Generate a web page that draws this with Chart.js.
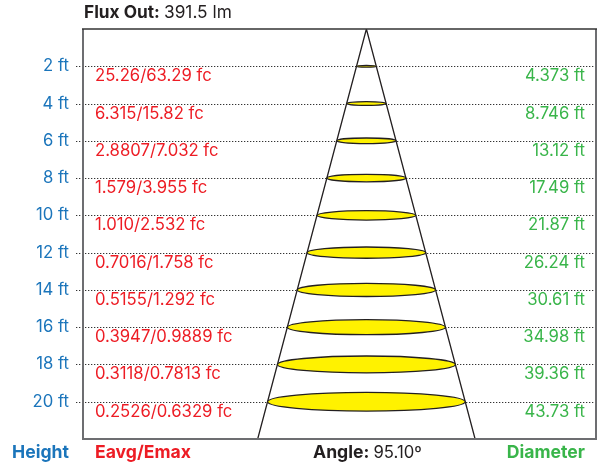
<!DOCTYPE html>
<html>
<head>
<meta charset="utf-8">
<script src="https://cdn.jsdelivr.net/npm/chart.js@4/dist/chart.umd.min.js"></script>
<style>
  html, body { margin: 0; padding: 0; background: #fff; }
  #wrap { width: 606px; height: 465px; }
</style>
</head>
<body>
<div id="wrap"><canvas id="beam"></canvas></div>
<script>
// beam data
const heights = [2, 4, 6, 8, 10, 12, 14, 16, 18, 20];
const diameters = [4.373, 8.746, 13.12, 17.49, 21.87, 26.24, 30.61, 34.98, 39.36, 43.73];
const diameterLabels = ['4.373 ft', '8.746 ft', '13.12 ft', '17.49 ft', '21.87 ft', '26.24 ft', '30.61 ft', '34.98 ft', '39.36 ft', '43.73 ft'];
const illuminance = ['25.26/63.29 fc', '6.315/15.82 fc', '2.8807/7.032 fc', '1.579/3.955 fc', '1.010/2.532 fc',
    '0.7016/1.758 fc', '0.5155/1.292 fc', '0.3947/0.9889 fc', '0.3118/0.7813 fc', '0.2526/0.6329 fc'];
const beamAngle = 95.10;
const fluxOut = '391.5 lm';
const maxHeight = 22;

const BLUE = '#1b75bb', RED = '#ed1c24', GREEN = '#39b54a', INK = '#231f20';
const FONT = 'Inter, "Noto Sans", sans-serif';

// cone edge reaches the bottom of the frame
const coneHalf = Math.tan(beamAngle / 2 * Math.PI / 180) * maxHeight;

const beamPlugin = {
    id: 'beam',
    beforeDatasetsDraw(chart) {
        // dotted row lines, dots drawn one by one (incl. the short tick stub left of the frame)
        const ctx = chart.ctx;
        const a = chart.chartArea;
        const y = chart.scales.y;
        ctx.save();
        ctx.fillStyle = '#333';
        heights.forEach(h => {
            const py = Math.round(y.getPixelForValue(h));
            for (let px = a.left - 7; px < a.right; px += 3) {
                ctx.fillRect(px, py, 1.3, 1);
            }
        });
        ctx.restore();
    },
    afterDatasetsDraw(chart) {
        const ctx = chart.ctx;
        const x = chart.scales.x, y = chart.scales.y;
        const cx = x.getPixelForValue(0);
        ctx.save();
        heights.forEach((h, i) => {
            const cy = y.getPixelForValue(h);
            const rx = x.getPixelForValue(diameters[i] / 2) - cx;
            const ry = rx * 0.095;
            ctx.beginPath();
            ctx.ellipse(cx, cy, rx, ry, 0, 0, Math.PI * 2);
            ctx.fillStyle = '#fff200';
            ctx.fill();
            ctx.lineWidth = 1.3;
            ctx.strokeStyle = INK;
            ctx.stroke();
        });
        ctx.restore();
    },
    afterDraw(chart) {
        const ctx = chart.ctx;
        const a = chart.chartArea;
        const y = chart.scales.y;
        ctx.save();
        // frame
        ctx.strokeStyle = '#6d6e71';
        ctx.lineWidth = 2;
        ctx.beginPath();
        ctx.moveTo(a.left, a.top);
        ctx.lineTo(a.left, a.bottom);
        ctx.lineTo(a.right, a.bottom);
        ctx.lineTo(a.right, a.top);
        ctx.stroke();
        ctx.strokeStyle = '#333';
        ctx.lineWidth = 1.5;
        ctx.beginPath();
        ctx.moveTo(a.left - 1, a.top);
        ctx.lineTo(a.right + 1, a.top);
        ctx.stroke();

        // row labels
        ctx.font = '16.7px ' + FONT;
        ctx.textBaseline = 'middle';
        heights.forEach((h, i) => {
            const py = y.getPixelForValue(h) + 10;
            ctx.fillStyle = RED;
            ctx.textAlign = 'left';
            ctx.fillText(illuminance[i], a.left + 12, py);
            ctx.fillStyle = GREEN;
            ctx.textAlign = 'right';
            ctx.fillText(diameterLabels[i], a.right - 11, py);
        });

        // title
        ctx.textAlign = 'left';
        ctx.fillStyle = INK;
        ctx.font = 'bold 17.3px ' + FONT;
        const t = 'Flux Out: ';
        ctx.fillText(t, a.left + 1, 13);
        const tw = ctx.measureText(t).width;
        ctx.font = '17.3px ' + FONT;
        ctx.fillText(fluxOut, a.left + 1 + tw, 13);

        // bottom legend
        const by = a.bottom + 14;
        ctx.font = 'bold 17.6px ' + FONT;
        ctx.fillStyle = BLUE;
        ctx.textAlign = 'right';
        ctx.fillText('Height', 69, by);
        ctx.fillStyle = RED;
        ctx.textAlign = 'left';
        ctx.fillText('Eavg/Emax', a.left + 12, by);
        ctx.fillStyle = GREEN;
        ctx.textAlign = 'right';
        ctx.fillText('Diameter', a.right - 11, by);
        ctx.fillStyle = INK;
        ctx.textAlign = 'left';
        const al = 'Angle: ';
        ctx.fillText(al, 313, by);
        const aw = ctx.measureText(al).width;
        ctx.font = '16.7px ' + FONT;
        ctx.fillText(beamAngle.toFixed(2) + 'º', 313 + aw, by);
        ctx.restore();
    }
};

new Chart(document.getElementById('beam'), {
    type: 'scatter',
    data: {
        datasets: [{
            data: [{x: -coneHalf, y: maxHeight}, {x: 0, y: 0}, {x: coneHalf, y: maxHeight}],
            showLine: true,
            borderColor: INK,
            borderWidth: 1.3,
            pointRadius: 0,
            tension: 0
        }]
    },
    options: {
        responsive: true,
        maintainAspectRatio: false,
        animation: false,
        layout: { padding: { top: 29, bottom: 26, right: 10, left: 0 } },
        plugins: { legend: { display: false }, tooltip: { enabled: false } },
        scales: {
            x: {
                display: false,
                min: -62.7,
                max: 50.8
            },
            y: {
                reverse: true,
                min: 0,
                max: maxHeight,
                afterFit(scale) { scale.width = 83; },
                ticks: {
                    stepSize: 2,
                    padding: 7,
                    color: BLUE,
                    font: { family: FONT, size: 16.7 },
                    callback: v => (v === 0 || v === maxHeight) ? '' : v + ' ft'
                },
                grid: {
                    drawOnChartArea: false,
                    color: 'rgba(0,0,0,0)',
                    tickColor: 'rgba(0,0,0,0)',
                    tickLength: 7
                },
                border: { display: false }
            }
        }
    },
    plugins: [beamPlugin]
});
</script>
</body>
</html>
